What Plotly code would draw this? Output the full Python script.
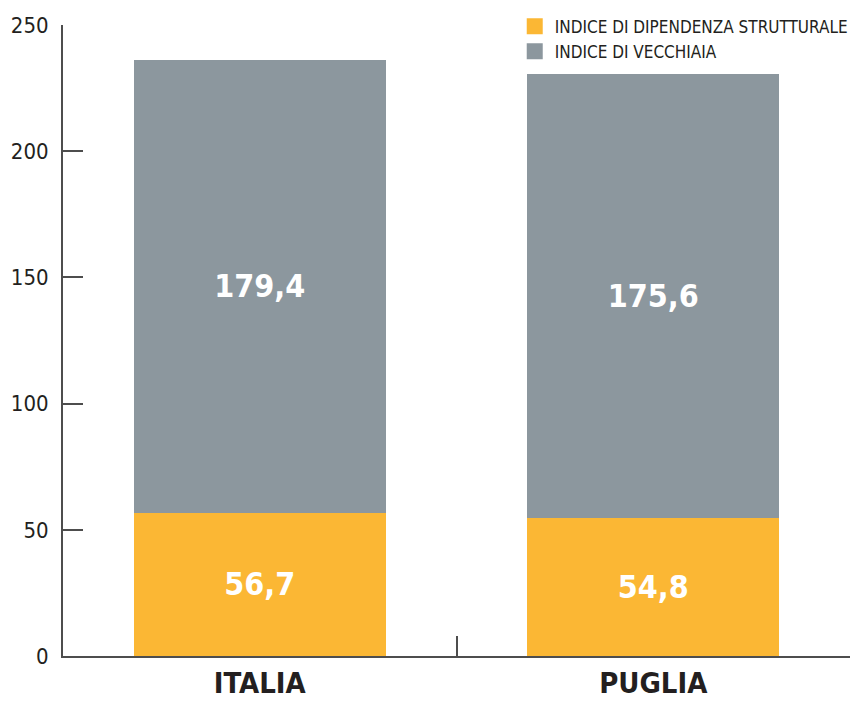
import plotly.graph_objects as go

categories = ["ITALIA", "PUGLIA"]
dipendenza = [56.7, 54.8]
vecchiaia = [179.4, 175.6]
series_names = ["INDICE DI DIPENDENZA STRUTTURALE", "INDICE DI VECCHIAIA"]
y_ticks = [0, 50, 100, 150, 200, 250]

FONT = "Liberation Sans Narrow, DejaVu Sans Condensed, Arial Narrow, sans-serif"
ORANGE = "#FBB734"
GRAY = "#8C979E"
DARK = "#231F20"
AXIS = "#4D4D4D"


def fmt(v):
    return f"{v:.1f}".replace(".", ",")


fig = go.Figure()
for vals, color in [(dipendenza, ORANGE), (vecchiaia, GRAY)]:
    fig.add_trace(go.Bar(
        x=categories, y=vals, showlegend=False,
        marker=dict(color=color, line=dict(width=0)),
        text=[fmt(v) for v in vals], textposition="inside",
        insidetextanchor="middle",
        textfont=dict(family=FONT, size=32, color="white", weight="bold"),
        width=0.64, hoverinfo="skip",
    ))

# legend entries with square swatches
for name, color in zip(series_names, [ORANGE, GRAY]):
    fig.add_trace(go.Scatter(
        x=[None], y=[None], mode="markers", name=name,
        marker=dict(symbol="square", size=16, color=color),
        hoverinfo="skip",
    ))

# the page body has an 8px default margin; size the figure to fit the window
fig.update_layout(
    width=851, height=694,
    barmode="stack",
    plot_bgcolor="white", paper_bgcolor="white",
    margin=dict(l=55, r=9, t=17, b=46, autoexpand=False),
    font=dict(family=FONT, color=DARK),
    showlegend=True,
    legend=dict(
        x=0.574, y=1.026, xanchor="left", yanchor="top",
        traceorder="normal", bgcolor="rgba(0,0,0,0)",
        font=dict(family=FONT, size=17, color=DARK),
        itemwidth=30, tracegroupgap=0,
    ),
)

fig.update_xaxes(
    range=[-0.5, 1.5], showline=True, linecolor=AXIS, linewidth=2,
    ticks="inside", tickson="boundaries", ticklen=20, tickwidth=2,
    tickcolor=AXIS, showgrid=False, zeroline=False,
    tickfont=dict(family=FONT, size=29, color=DARK, weight="bold"),
)
fig.update_yaxes(
    range=[0, 250], tickvals=y_ticks, showline=True, linecolor=AXIS,
    linewidth=2, ticks="inside", ticklen=20, tickwidth=2, tickcolor=AXIS,
    showgrid=False, zeroline=False,
    tickfont=dict(family=FONT, size=22, color=DARK),
    ticklabelstandoff=8,
)

fig.write_html("out.html")
